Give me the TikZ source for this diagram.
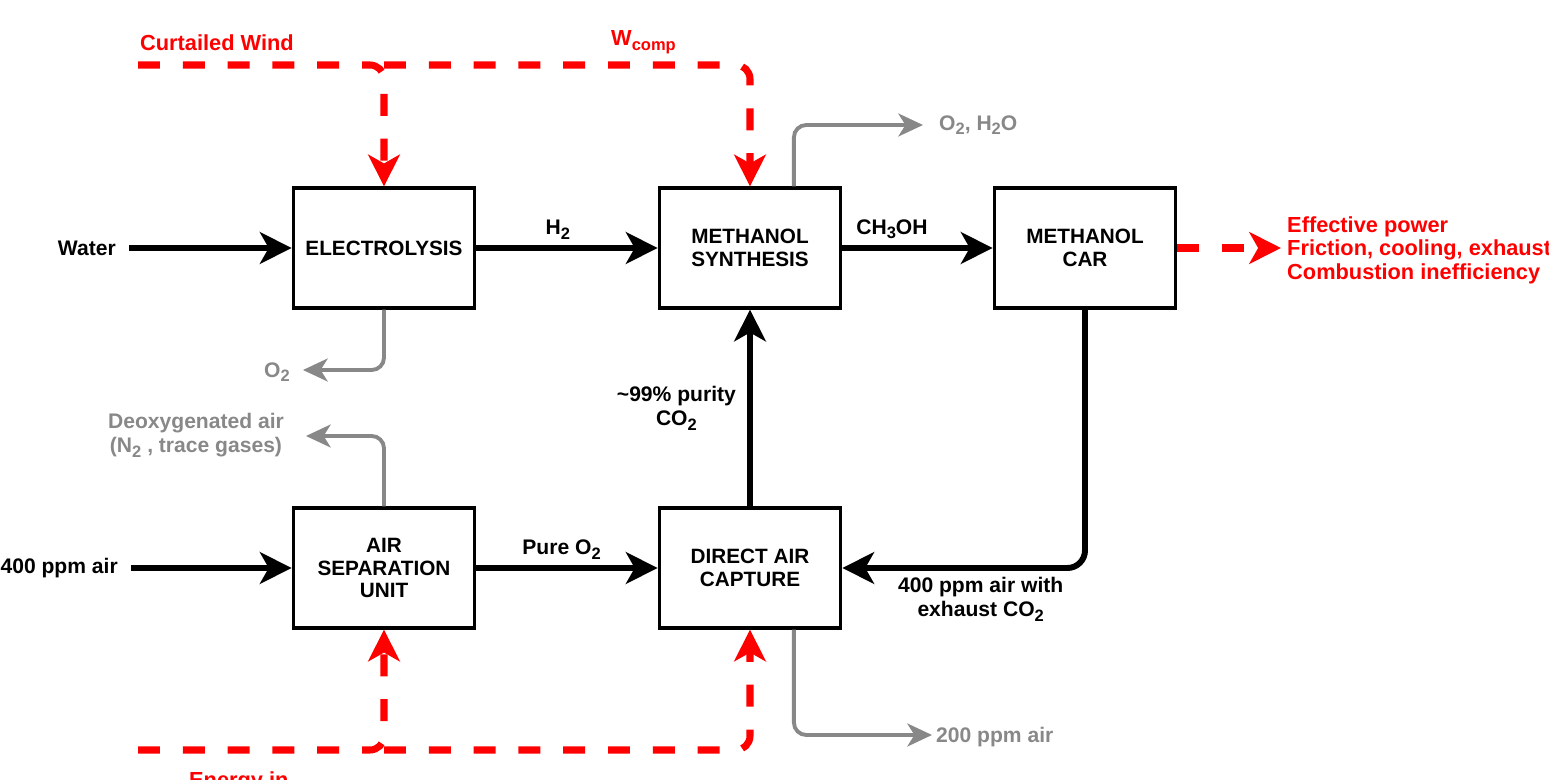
\documentclass[tikz,border=0pt]{standalone}
\usepackage{fontspec}
\setmainfont{Liberation Sans}
\usetikzlibrary{arrows.meta}
\definecolor{ventgray}{RGB}{136,136,136}
\newcommand{\subtxt}[1]{\raisebox{-2.6pt}{\fontsize{9.4}{9.4}\selectfont #1}}

\begin{document}
\begin{tikzpicture}[x=0.02cm, y=-0.02cm,
  >={Stealth[length=18pt, width=18pt, inset=5pt]},
  unit/.style={draw, line width=2.2pt, minimum width=103pt, minimum height=68pt, align=center,
    font=\bfseries\fontsize{11.8}{13}\selectfont},
  txt/.style={align=center, font=\bfseries\fontsize{12}{14}\selectfont},
  redtxt/.style={txt, red, font=\bfseries\fontsize{12.4}{13.4}\selectfont},
  greytxt/.style={txt, ventgray},
  flow/.style={->, line width=3.4pt},
  power/.style={->, red, line width=4pt, dash pattern=on 12.5pt off 13pt, rounded corners=8pt},
  vent/.style={-{Stealth[length=14pt, width=13pt, inset=4pt]}, ventgray, line width=2.2pt, rounded corners=7pt}]
  \useasboundingbox (0,0) rectangle (1549,780);

  \node[unit] (elec) at (384,248) {ELECTROLYSIS};
  \node[unit] (synth) at (750,248) {METHANOL\\SYNTHESIS};
  \node[unit] (car) at (1085,248) {METHANOL\\CAR};
  \node[unit] (asu) at (384,568) {AIR\\SEPARATION\\UNIT};
  \node[unit] (dac) at (750,568) {DIRECT AIR\\CAPTURE};

  \node[txt, anchor=east] (water) at (122,248) {Water};
  \node[txt, anchor=east] (airin) at (124,568) {400 ppm air};
  \draw[flow, shorten <=4pt] (water) -- (elec);
  \draw[flow, shorten <=4pt] (airin) -- (asu);
  \draw[flow] (elec) -- node[txt, above, pos=0.45] {H\subtxt{2}} (synth);
  \draw[flow] (synth) -- node[txt, above, pos=0.33] {CH\subtxt{3}OH} (car);
  \draw[flow] (asu) -- node[txt, above, pos=0.47] {Pure O\subtxt{2}} (dac);
  \draw[flow] (dac) -- node[txt, left, xshift=-3pt] {\textasciitilde99\% purity\\CO\subtxt{2}} (synth);
  \draw[flow, rounded corners=10pt] (car) |- node[txt, below, pos=0.715] {400 ppm air with\\exhaust CO\subtxt{2}} (dac);

  \coordinate (windin) at (138,65);
  \coordinate (windsplit) at (384,65);
  \draw[power] (windin) -| (elec.north);
  \draw[power] (windsplit) -| (synth.north);
  \node[redtxt, anchor=west] (windtxt) at (134,43) {Curtailed Wind};
  \node[redtxt, anchor=west] (wcomp) at (605,42) {W\subtxt{comp}};

  \coordinate (energyin) at (138,750);
  \coordinate (energysplit) at (384,750);
  \draw[power] (energyin) -| (asu.south);
  \draw[power] (energysplit) -| (dac.south);
  \node[redtxt, anchor=north west] (energytxt) at (183,766) {Energy in};

  \node[redtxt, anchor=west, align=left] (losses) at (1281,250) {Effective power\\Friction, cooling, exhaust\\Combustion inefficiency};
  \draw[power] (car) -- (car -| losses.west);

  \coordinate (o2tip) at (303,370);
  \coordinate (exhtip) at (923,125);
  \coordinate (deoxtip) at (306,436);
  \coordinate (leantip) at (932,735);
  \draw[vent] (elec.south) |- (o2tip);
  \draw[vent] ([xshift=25pt]synth.north) |- (exhtip);
  \draw[vent] (asu.north) |- (deoxtip);
  \draw[vent] ([xshift=25pt]dac.south) |- (leantip);
  \node[greytxt, anchor=east] (o2txt) at (296,372) {O\subtxt{2}};
  \node[greytxt, anchor=west] (exhtxt) at (933,125) {O\subtxt{2}, H\subtxt{2}O};
  \node[greytxt] (deoxtxt) at (196,435) {Deoxygenated air\\(N\subtxt{2} , trace gases)};
  \node[greytxt, anchor=west] (leantxt) at (930,737) {200 ppm air};
\end{tikzpicture}
\end{document}
